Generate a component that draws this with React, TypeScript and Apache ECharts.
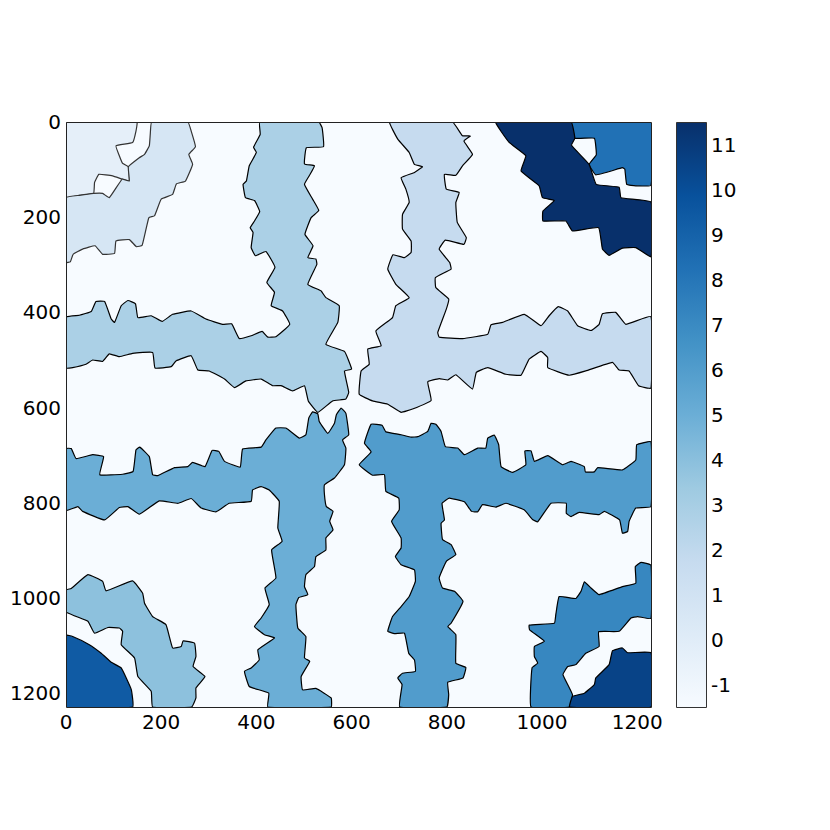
import React, { useEffect, useRef } from "react";
import * as echarts from "echarts";

const EXTENT = 1229;
const X_TICKS = [0, 200, 400, 600, 800, 1000, 1200];
const CBAR_TICKS = [-1, 0, 1, 2, 3, 4, 5, 6, 7, 8, 9, 10, 11];
const CBAR_RANGE = [-1.5, 11.5];
const BLUES = ["#08306b", "#08519c", "#2171b5", "#4292c6", "#6baed6", "#9ecae1", "#c6dbef", "#deebf7", "#f7fbff"];
const BACKGROUND = "#f7fbff";

const LABEL_COLORS: Record<number, string> = {
  0: "#e5eff9", 1: "#d6e6f4", 2: "#c6dbef", 3: "#abd0e6", 4: "#8dc1dd", 5: "#6baed6",
  6: "#519ccc", 7: "#3787c0", 8: "#2171b5", 9: "#105ba4", 10: "#084387", 11: "#08306b",
};

const label0 = [[0,0],[149,0],[147,19],[140,43],[105,50],[112,71],[119,87],[131,94],[133,124],[118,120],[98,113],[69,110],[60,127],[58,150],[28,154],[0,159]];

const label1 = [[180,0],[177,26],[175,50],[165,68],[154,75],[131,94],[133,124],[118,120],[91,159],[77,150],[58,150],[28,154],[0,159],[0,295],[9,294],[15,278],[35,267],[61,260],[77,278],[102,276],[105,250],[133,247],[148,262],[160,259],[174,201],[186,197],[200,162],[224,152],[232,130],[251,124],[266,89],[258,68],[272,52],[263,19],[256,0]];

const label2 = [[680,0],[697,36],[721,64],[732,89],[749,94],[732,106],[704,117],[714,141],[721,169],[707,194],[707,225],[725,250],[725,274],[711,285],[687,279],[676,309],[693,341],[721,369],[693,386],[686,411],[651,439],[662,470],[634,477],[637,509],[620,523],[616,572],[644,586],[676,593],[704,610],[728,603],[767,585],[760,546],[784,539],[802,542],[819,531],[854,561],[862,526],[886,516],[924,530],[956,532],[973,498],[998,482],[1012,495],[1012,516],[1057,532],[1092,523],[1148,505],[1162,521],[1183,523],[1203,554],[1229,559],[1229,409],[1176,425],[1155,400],[1127,403],[1120,425],[1103,438],[1075,428],[1054,397],[1034,388],[1015,407],[998,428],[963,404],[917,421],[893,426],[886,446],[833,455],[784,452],[781,442],[799,393],[804,372],[777,348],[776,327],[809,309],[806,295],[784,267],[797,248],[836,257],[841,243],[822,211],[819,169],[826,148],[799,141],[795,110],[819,112],[833,92],[854,68],[836,40],[850,29],[833,29],[812,0]];

const label3 = [[407,0],[408,26],[394,53],[400,64],[385,92],[379,124],[372,131],[377,159],[396,165],[407,188],[396,208],[387,222],[393,232],[389,264],[398,281],[420,272],[439,305],[422,337],[438,358],[431,386],[455,397],[470,425],[441,451],[424,452],[412,440],[389,449],[364,455],[348,424],[329,425],[294,414],[263,397],[224,404],[202,419],[179,407],[151,411],[146,382],[130,375],[116,386],[102,421],[95,414],[81,377],[63,377],[53,398],[28,406],[0,410],[0,517],[14,516],[42,509],[56,500],[77,503],[91,487],[112,493],[140,486],[182,484],[187,517],[221,514],[231,502],[263,491],[277,521],[301,523],[333,540],[354,558],[378,544],[410,540],[434,554],[452,554],[476,565],[501,554],[509,586],[529,610],[560,586],[588,582],[594,568],[585,523],[600,519],[585,482],[546,467],[571,421],[574,386],[546,369],[536,355],[508,341],[527,299],[525,288],[508,285],[519,260],[502,236],[515,201],[531,186],[518,162],[501,131],[511,113],[522,92],[501,88],[505,54],[541,52],[538,12],[531,0]];

const label4 = [[0,983],[11,980],[46,951],[77,965],[84,985],[140,964],[161,990],[165,1011],[182,1039],[210,1056],[224,1105],[242,1102],[246,1090],[270,1095],[273,1123],[267,1144],[292,1165],[273,1189],[273,1210],[264,1229],[182,1229],[179,1196],[151,1165],[144,1126],[116,1098],[119,1070],[112,1063],[88,1062],[60,1074],[46,1049],[0,1029]];

const label5 = [[0,686],[11,686],[21,707],[56,699],[79,703],[71,741],[119,740],[141,734],[147,689],[155,683],[175,703],[182,741],[193,743],[228,726],[256,724],[266,715],[292,724],[307,690],[321,692],[333,713],[366,725],[371,687],[410,683],[420,668],[441,643],[462,643],[490,664],[504,657],[510,622],[518,609],[529,613],[532,629],[550,654],[564,633],[568,615],[578,601],[588,612],[594,657],[581,668],[588,685],[585,720],[564,748],[543,762],[543,783],[547,808],[561,818],[554,839],[561,857],[546,874],[546,899],[525,913],[522,934],[504,951],[501,976],[508,993],[489,999],[483,1014],[487,1063],[504,1081],[501,1126],[512,1133],[494,1165],[497,1193],[525,1190],[557,1210],[557,1229],[424,1229],[426,1200],[385,1186],[375,1154],[389,1147],[406,1130],[403,1109],[438,1084],[417,1077],[396,1060],[410,1042],[427,1014],[418,979],[441,958],[432,899],[454,881],[445,853],[448,797],[427,773],[410,766],[392,773],[389,797],[343,801],[315,819],[284,811],[263,791],[235,801],[196,796],[154,824],[130,808],[112,810],[81,836],[35,818],[25,808],[0,816]];

const label6 = [[641,635],[664,637],[672,651],[704,657],[725,662],[739,661],[760,650],[767,633],[777,635],[788,650],[797,682],[823,685],[837,699],[865,685],[882,685],[886,664],[900,658],[909,678],[914,724],[938,736],[966,720],[964,691],[977,691],[984,713],[1012,701],[1043,720],[1061,713],[1089,724],[1091,735],[1110,735],[1117,726],[1169,731],[1197,710],[1199,678],[1229,672],[1229,808],[1197,811],[1183,839],[1180,860],[1169,864],[1163,836],[1131,818],[1120,825],[1078,820],[1061,829],[1051,822],[1051,801],[1019,801],[991,840],[980,835],[963,815],[924,801],[903,809],[875,804],[865,819],[852,818],[837,798],[805,790],[790,801],[795,836],[788,843],[791,877],[809,888],[819,909],[799,923],[784,958],[791,979],[816,986],[834,1007],[809,1053],[802,1060],[819,1077],[819,1137],[840,1146],[834,1168],[802,1177],[804,1203],[800,1229],[701,1229],[706,1182],[697,1168],[707,1158],[734,1154],[732,1130],[720,1116],[711,1074],[690,1075],[676,1070],[686,1039],[704,1018],[721,997],[734,965],[732,941],[704,930],[692,913],[704,895],[704,874],[684,839],[700,815],[699,790],[672,776],[669,741],[644,742],[616,720],[641,693],[627,675]];

const label7 = [[1229,931],[1208,925],[1196,934],[1197,969],[1169,976],[1120,993],[1103,979],[1089,966],[1082,986],[1071,1001],[1036,997],[1029,1035],[1026,1053],[973,1057],[974,1067],[1005,1091],[984,1102],[984,1123],[991,1137],[979,1147],[977,1229],[1058,1229],[1064,1203],[1044,1161],[1054,1144],[1071,1140],[1092,1116],[1120,1102],[1119,1071],[1162,1070],[1187,1042],[1201,1039],[1229,1043]];

const label8 = [[1061,0],[1229,0],[1229,133],[1197,134],[1178,131],[1174,99],[1169,96],[1113,111],[1099,89],[1114,69],[1110,34],[1069,34]];

const label9 = [[0,1078],[14,1081],[49,1098],[74,1116],[95,1135],[116,1147],[137,1192],[140,1229],[0,1229]];

const label10 = [[1058,1229],[1064,1207],[1089,1200],[1110,1182],[1113,1168],[1141,1140],[1148,1111],[1169,1105],[1180,1115],[1229,1115],[1229,1229]];

const label11 = [[903,0],[1061,0],[1069,34],[1062,49],[1099,89],[1114,131],[1162,137],[1166,159],[1229,168],[1229,283],[1197,264],[1169,265],[1141,280],[1127,267],[1119,222],[1064,229],[1050,208],[1002,208],[1002,187],[1026,165],[1001,159],[994,134],[956,103],[966,71],[931,43]];

const REGIONS = [label0, label1, label2, label3, label4, label5, label6, label7, label8, label9, label10, label11];

const FONT = "DejaVu Sans";
const plain = (v: number) => String(v);

export default function App() {
  const ref = useRef<HTMLDivElement>(null);
  useEffect(() => {
    const chart = echarts.init(ref.current!, null, { renderer: "svg" });
    const stops = BLUES.map((color, i) => ({ offset: i / (BLUES.length - 1), color }));
    chart.setOption({
      animation: false,
      backgroundColor: "#fff",
      grid: [
        { left: 66, top: 122, width: 585, height: 585, show: true, backgroundColor: BACKGROUND, borderWidth: 0 },
        { left: 676, top: 122, width: 30, height: 585 },
      ],
      xAxis: [
        {
          gridIndex: 0, type: "value", min: 0, max: EXTENT, interval: 200, position: "bottom",
          splitLine: { show: false }, axisTick: { show: false }, axisLine: { show: false },
          axisLabel: { color: "#000", fontFamily: FONT, fontSize: 20, margin: 5, customValues: X_TICKS, formatter: plain },
        },
        { gridIndex: 1, type: "value", min: 0, max: 1, show: false },
      ],
      yAxis: [
        {
          gridIndex: 0, type: "value", inverse: true, min: 0, max: EXTENT, interval: 200,
          splitLine: { show: false }, axisTick: { show: false }, axisLine: { show: false },
          axisLabel: { color: "#000", fontFamily: FONT, fontSize: 20, margin: 5, customValues: X_TICKS, formatter: plain },
        },
        {
          gridIndex: 1, type: "value", position: "right", min: CBAR_RANGE[0], max: CBAR_RANGE[1],
          splitLine: { show: false }, axisTick: { show: false }, axisLine: { show: false },
          axisLabel: { color: "#000", fontFamily: FONT, fontSize: 20, margin: 5, customValues: CBAR_TICKS, formatter: plain },
        },
      ],
      series: [
        {
          type: "custom", coordinateSystem: "cartesian2d", xAxisIndex: 0, yAxisIndex: 0, clip: true,
          data: REGIONS.map((_, i) => [0, 0, i]),
          renderItem: (params: any, api: any) => {
            const i = params.dataIndex;
            return {
              type: "polygon",
              shape: { points: REGIONS[i].map((p) => api.coord(p)), smooth: 0.1 },
              style: { fill: LABEL_COLORS[i], stroke: i < 2 ? "#333" : "#000", lineWidth: 1.2 },
            };
          },
        },
        {
          type: "custom", coordinateSystem: "cartesian2d", xAxisIndex: 0, yAxisIndex: 0, z: 5,
          data: [[0, 0]],
          renderItem: (_: any, api: any) => {
            const a = api.coord([0, 0]);
            const b = api.coord([EXTENT, EXTENT]);
            return {
              type: "rect",
              shape: { x: a[0] + 0.5, y: a[1] + 0.5, width: b[0] - a[0], height: b[1] - a[1] },
              style: { fill: "none", stroke: "#222", lineWidth: 1 },
            };
          },
        },
        {
          type: "custom", coordinateSystem: "cartesian2d", xAxisIndex: 1, yAxisIndex: 1,
          data: [[0, CBAR_RANGE[1]]],
          renderItem: (_: any, api: any) => {
            const a = api.coord([0, CBAR_RANGE[1]]);
            const b = api.coord([1, CBAR_RANGE[0]]);
            return {
              type: "rect",
              shape: { x: a[0] + 0.5, y: a[1] + 0.5, width: b[0] - a[0], height: b[1] - a[1] },
              style: { fill: new echarts.graphic.LinearGradient(0, 0, 0, 1, stops), stroke: "#333", lineWidth: 1 },
            };
          },
        },
      ],
    });
    return () => chart.dispose();
  }, []);
  return <div ref={ref} style={{ position: "fixed", left: 0, top: 0, width: 830, height: 830 }} />;
}
